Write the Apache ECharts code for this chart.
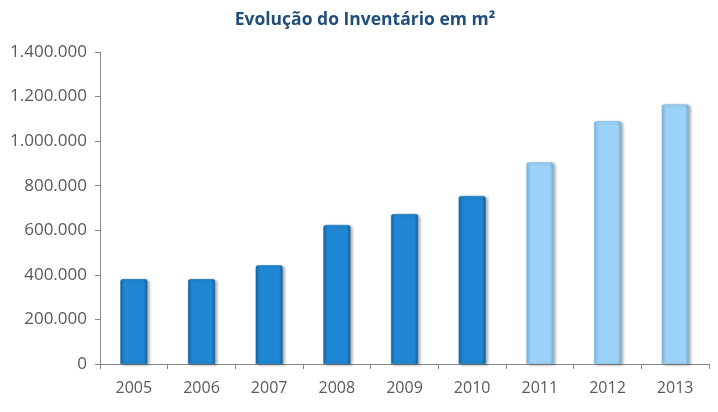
<!DOCTYPE html>
<html>
<head>
<meta charset="utf-8">
<script src="https://cdn.jsdelivr.net/npm/echarts@6/dist/echarts.min.js"></script>
<style>
html,body{margin:0;padding:0;background:#fff;}
#c{width:718px;height:412px;}
</style>
</head>
<body>
<div id="c"></div>
<script>
const categories = ['2005','2006','2007','2008','2009','2010','2011','2012','2013'];
const values = [381000, 381000, 443000, 624000, 673000, 754000, 905000, 1090000, 1166000];
const kinds = ['real','real','real','real','real','real','proj','proj','proj'];
const yTicks = [0, 200000, 400000, 600000, 800000, 1000000, 1200000, 1400000];

function grad(edge, mid, edge2){
  return new echarts.graphic.LinearGradient(0,0,1,0,[
    {offset:0,color:edge},{offset:0.13,color:mid},{offset:0.87,color:mid},{offset:1,color:edge2}
  ]);
}
const styles = {
  real: {color: grad('#16639f','#1f87d3','#155c96'), borderColor:'#1a6fb0'},
  proj: {color: grad('#7fb6da','#9bd3f8','#78acd0'), borderColor:'#86bde2'}
};

const chart = echarts.init(document.getElementById('c'), null, {renderer:'canvas'});
const fmt = v => String(v).replace(/\B(?=(\d{3})+(?!\d))/g, '.');
chart.setOption({
  animation:false,
  title:{
    text:'Evolução do Inventário em m²',
    left:360, top:6, textAlign:'center',
    textStyle:{fontFamily:'Open Sans', fontSize:17.5, fontWeight:'bold', color:'#1f4e79'}
  },
  grid:{left:100, right:9, top:52, bottom:48},
  xAxis:{
    type:'category', data:categories, boundaryGap:true,
    axisLine:{lineStyle:{color:'#868686'}},
    axisTick:{show:true, alignWithLabel:false, length:5, lineStyle:{color:'#868686'}},
    axisLabel:{fontFamily:'Open Sans', fontSize:16, color:'#595959', margin:16}
  },
  yAxis:{
    type:'value', min:yTicks[0], max:yTicks[yTicks.length-1], interval:200000,
    axisLine:{show:true, lineStyle:{color:'#868686'}},
    axisTick:{show:true, length:5, lineStyle:{color:'#868686'}},
    splitLine:{show:false},
    axisLabel:{fontFamily:'Open Sans', fontSize:17, color:'#595959', margin:13, formatter:fmt}
  },
  series:[{
    type:'bar', barWidth:27,
    data: values.map((v,i)=>({value:v, itemStyle:{
      color: styles[kinds[i]].color,
      borderColor: styles[kinds[i]].borderColor, borderWidth:0.5,
      borderRadius:[2,2,0,0],
      shadowColor:'rgba(0,0,0,0.35)', shadowBlur:3, shadowOffsetX:2, shadowOffsetY:1
    }}))
  }]
});
</script>
</body>
</html>
